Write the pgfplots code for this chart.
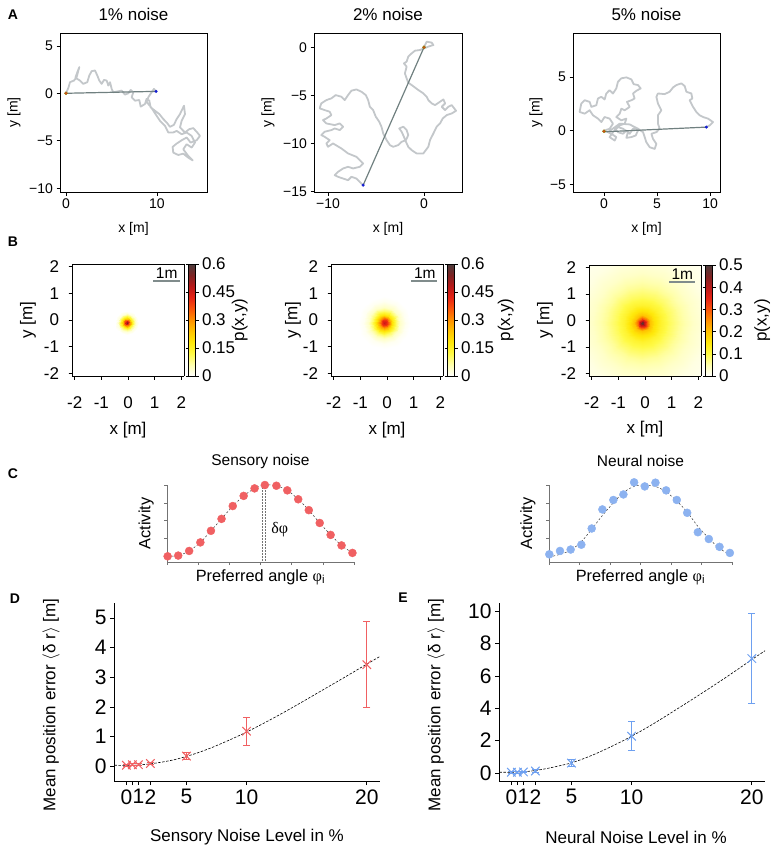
\documentclass[border=0pt]{standalone}
\usepackage{pgfplots}
\pgfplotsset{compat=1.18}
\usepackage{fontspec}
\setmainfont{Liberation Sans}
\newfontfamily\serifgreek{Liberation Serif}

\newcommand\fA{\fontsize{14}{16}\selectfont}
\newcommand\fAt{\fontsize{17}{20}\selectfont}
\newcommand\fB{\fontsize{17}{20}\selectfont}
\newcommand\fBs{\fontsize{15.5}{18}\selectfont}
\newcommand\fC{\fontsize{16.3}{19}\selectfont}
\newcommand\fCt{\fontsize{15.5}{18}\selectfont}
\newcommand\fD{\fontsize{21}{24}\selectfont}
\newcommand\fDl{\fontsize{17}{20}\selectfont}
\newcommand\fP{\fontsize{14}{17}\selectfont\bfseries}

\definecolor{trajgray}{RGB}{195,199,202}
\definecolor{linegray}{RGB}{112,128,128}
\definecolor{bargray}{RGB}{128,140,140}
\definecolor{sensred}{RGB}{240,96,98}
\definecolor{neurblue}{RGB}{140,178,240}
\definecolor{neurbar}{RGB}{110,160,240}
\definecolor{startred}{RGB}{220,60,30}
\definecolor{endblue}{RGB}{20,30,210}

\pgfplotsset{
  colormap={hotw}{rgb255=(255,255,255) rgb255=(255,255,175) rgb255=(255,250,70) rgb255=(255,232,10) rgb255=(255,195,0) rgb255=(255,145,0) rgb255=(250,85,10) rgb255=(230,35,20) rgb255=(185,25,25) rgb255=(125,35,35) rgb255=(75,60,60)},
  every axis/.append style={/pgf/number format/assume math mode=true},
  Astyle/.style={scale only axis, anchor=south west, width=147pt, height=159pt,
    tick align=outside, xtick pos=left, ytick pos=left, major tick length=3.5pt,
    axis line style={line width=0.7pt}, tick style={line width=0.6pt,black},
    tick label style={font=\fA}, label style={font=\fA},
    title style={font=\fAt, at={(0.5,1)}, anchor=base, yshift=6.9pt},
    xlabel={x [m]}, ylabel={y [m]},
    xlabel style={at={(0.5,0)}, anchor=center, yshift=-37pt}},
  Bstyle/.style={scale only axis, anchor=south west, width=112pt, height=112pt,
    view={0}{90}, xmin=-2.1, xmax=2.1, ymin=-2.1, ymax=2.1, zmin=0, zmax=1, ztick=\empty,
    xtick={-2,-1,0,1,2}, ytick={-2,-1,0,1,2},
    tick align=outside, xtick pos=left, ytick pos=left, major tick length=3.5pt,
    tick style={line width=0.6pt,black}, axis line style={line width=0.6pt},
    tick label style={font=\fB}, label style={font=\fB},
    xticklabel style={yshift=-14pt}, yticklabel style={xshift=-6pt},
    xlabel={x [m]}, ylabel={y [m]},
    xlabel style={at={(0.5,-0.482)}, anchor=center},
    colorbar, colormap name=hotw, point meta min=0, axis on top},
  cbstyle/.style={width=7pt, at={(parent axis.north east)}, anchor=north west, xshift=-4pt,
    tick align=outside, major tick length=3pt, tick style={line width=0.5pt,black},
    yticklabel style={font=\fB}, ylabel={p(x,y)}, ylabel style={font=\fB, anchor=center}},
  Cstyle/.style={scale only axis, anchor=south west, height=77pt, xmin=0, xmax=6, ymin=-0.32, ymax=4.0,
    axis x line*=bottom, axis y line*=left, axis line style={-, black!55, line width=0.5pt},
    xtick={0,...,6}, ytick={0,...,4}, xticklabels={}, yticklabels={},
    tick align=outside, major tick length=3pt, tick style={black!55, line width=0.5pt},
    clip=false, title style={font=\fCt, at={(0.5,1)}, anchor=center, yshift=18pt},
    label style={font=\fC}, xlabel style={at={(0.5,-0.195)}, anchor=center},
    ylabel={Activity}, xlabel={Preferred angle {\serifgreek φ}\textsubscript{i}}},
  Dstyle/.style={scale only axis, anchor=south west, width=266pt, height=178pt, xmin=-1.03, xmax=21.1, ymin=-0.5,
    axis x line*=bottom, axis y line*=left, axis line style={-, line width=0.6pt},
    xtick={0,0.5,1,2,5,10,20}, xticklabels={0,,1,2,5,10,20},
    tick align=outside, major tick length=4pt, tick style={line width=0.6pt,black},
    tick label style={font=\fD}, label style={font=\fDl}, xticklabel style={yshift=-1pt},
    ylabel={Mean position error $\langle$δ r$\rangle$ [m]},
    ylabel style={at={(-0.237,0.427)}, anchor=center}, clip=false},
}

\begin{document}
\begin{tikzpicture}
\useasboundingbox (0pt,0pt) rectangle (773pt,-850pt);

% ---------------- A1
\begin{axis}[Astyle, at={(60pt,-192pt)}, xmin=-0.66, xmax=15.5, ymin=-10.4, ymax=6.35,
  xtick={0,10}, ytick={-10,-5,0,5}, yticklabels={−10,−5,0,5}, title={1\% noise},
  ylabel style={at={(-0.313,0.5)}, anchor=center}]
\addplot[trajgray, line width=1.8pt, line join=round, line cap=round] coordinates {
(0,0) (0.26,0.57) (0.44,1.17) (0.88,1.34) (1.17,1.70) (1.36,2.40) (1.47,2.76) (1.25,2.23) (1.03,1.63) (1.54,1.34) (1.90,0.99) (2.34,1.17) (2.56,1.87) (2.82,2.33) (3.19,2.40) (3.44,1.87) (3.66,1.34) (3.92,0.99) (4.18,1.41) (4.47,1.34) (4.65,0.81) (4.84,1.17) (5.02,0.46) (5.20,0.11) (5.75,0.21) (6.12,0.28) (6.48,-0.14) (6.85,0) (7.11,0.35) (7.40,0.11) (7.22,-0.42) (7.58,-0.78) (8.06,-0.71) (8.21,-1.41) (8.68,-1.13) (8.86,-0.60) (9.16,-0.78) (9.30,-1.48) (9.78,-1.84) (10.26,-2.19) (10.70,-2.72) (11.06,-3.07) (11.43,-3.53) (11.87,-3.32) (12.16,-2.72) (12.53,-2.19) (12.97,-1.31) (13.08,-2.19) (12.71,-2.90) (12.53,-3.60) (13.08,-4.13) (13.55,-3.78) (13.99,-3.67) (14.43,-4.13) (14.73,-4.49) (14.36,-4.95) (13.70,-5.19) (13.26,-4.66) (12.71,-4.95) (12.16,-5.30) (11.72,-5.65) (11.79,-6.25) (12.34,-6.50) (12.89,-6.36) (13.44,-6.78) (13.92,-7.07) (13.44,-6.61) (12.89,-5.90) (13.26,-5.37) (13.81,-5.72) (14.18,-5.19) (13.81,-4.49) (13.26,-4.13) (12.71,-4.31) (12.16,-3.96) (11.79,-4.13) (11.25,-4.13) (10.88,-3.43) (10.33,-2.90) (9.96,-2.37) (9.60,-1.84) (9.23,-1.31) (8.86,-0.95) (9.05,-0.42) (9.41,0.11) (9.67,0.46) (9.9,0.2)};
\addplot[linegray, line width=1.2pt] coordinates {(0,0) (9.9,0.2)};
\addplot[only marks, mark=*, mark size=1.6pt, mark options={fill=startred, draw=olive, line width=0.4pt}] coordinates {(0,0)};
\addplot[only marks, mark=*, mark size=1.3pt, endblue] coordinates {(9.9,0.2)};
\end{axis}

% ---------------- A2
\begin{axis}[Astyle, at={(314pt,-192pt)}, width=148pt, xmin=-11.46, xmax=3.96, ymin=-15.05, ymax=1.49,
  xtick={-10,0}, xticklabels={−10,0}, ytick={-15,-10,-5,0}, yticklabels={−15,−10,−5,0}, title={2\% noise},
  ylabel style={at={(-0.311,0.5)}, anchor=center}]
\addplot[trajgray, line width=1.8pt, line join=round, line cap=round] coordinates {
(0,0) (0.28,0.59) (0.80,0.49) (0.98,0.24) (0.45,0.07) (-0.42,-0.28) (-0.94,-0.35) (-1.29,-0.63) (-1.64,-0.97) (-1.81,-1.49) (-2.09,-1.67) (-1.81,-2.01) (-1.99,-2.71) (-1.81,-3.23) (-1.64,-3.68) (-1.29,-3.92) (-1.05,-4.10) (-0.59,-4.44) (-0.07,-4.79) (0.28,-5.14) (0.45,-5.49) (0.80,-5.83) (1.15,-6.01) (1.67,-5.66) (2.02,-5.42) (2.20,-5.83) (1.85,-6.18) (2.20,-6.53) (2.54,-6.18) (2.89,-6.01) (3.34,-6.60) (2.89,-6.88) (2.37,-7.05) (1.95,-7.40) (1.67,-7.92) (1.32,-8.26) (0.98,-8.96) (0.63,-9.65) (0.45,-10.35) (-0.07,-11.04) (-0.77,-11.04) (-1.29,-10.69) (-1.64,-10.35) (-1.88,-9.83) (-2.09,-9.31) (-2.33,-8.78) (-2.58,-8.44) (-2.16,-8.26) (-1.81,-8.61) (-1.64,-9.13) (-1.88,-9.65) (-2.33,-9.83) (-2.68,-10.17) (-3.21,-10.35) (-3.55,-10.17) (-3.90,-9.65) (-4.25,-8.96) (-4.43,-8.26) (-4.67,-7.74) (-5.02,-7.22) (-5.30,-6.53) (-5.64,-6.18) (-5.82,-5.49) (-6.06,-4.97) (-6.52,-4.62) (-7.04,-4.38) (-7.56,-4.51) (-7.91,-4.97) (-8.26,-5.49) (-8.61,-5.14) (-9.20,-4.97) (-9.65,-5.31) (-10.17,-5.49) (-10.70,-5.83) (-10.87,-6.35) (-10.35,-6.53) (-9.83,-6.70) (-9.65,-7.05) (-10.17,-7.40) (-10.52,-7.57) (-10.17,-7.92) (-9.30,-8.09) (-8.78,-7.92) (-8.43,-8.26) (-8.78,-8.61) (-9.30,-8.44) (-9.65,-8.61) (-10.35,-8.78) (-10.70,-9.13) (-10.35,-9.31) (-9.83,-9.65) (-10.17,-10.00) (-10.00,-10.35) (-9.48,-10.00) (-8.61,-10.52) (-7.91,-11.04) (-7.04,-11.39) (-6.69,-11.74) (-6.34,-12.08) (-6.69,-12.43) (-7.39,-12.60) (-7.91,-12.43) (-8.43,-12.60) (-8.95,-12.95) (-9.30,-13.30) (-8.95,-13.47) (-8.43,-13.65) (-7.91,-13.82) (-7.56,-13.47) (-7.04,-13.65) (-6.69,-13.99) (-6.34,-14.34)};
\addplot[linegray, line width=1.2pt] coordinates {(0,0) (-6.34,-14.34)};
\addplot[only marks, mark=*, mark size=1.6pt, mark options={fill=startred, draw=olive, line width=0.4pt}] coordinates {(0,0)};
\addplot[only marks, mark=*, mark size=1.3pt, endblue] coordinates {(-6.34,-14.34)};
\end{axis}

% ---------------- A3
\begin{axis}[Astyle, at={(573pt,-192pt)}, xmin=-2.92, xmax=10.94, ymin=-5.7, ymax=9.1,
  xtick={0,5,10}, ytick={-5,0,5}, yticklabels={−5,0,5}, title={5\% noise},
  ylabel style={at={(-0.252,0.5)}, anchor=center}]
\addplot[trajgray, line width=1.8pt, line join=round, line cap=round] coordinates {
(0,0) (0.53,0.19) (0.85,0.66) (0.53,1.13) (0.06,1.28) (-0.25,0.81) (-0.57,1.13) (-1.04,1.44) (-1.35,1.91) (-1.82,1.59) (-2.30,1.75) (-2.14,2.53) (-1.82,2.84) (-1.35,2.69) (-1.19,2.22) (-0.72,2.38) (-0.57,3.00) (-0.25,3.16) (0.06,2.91) (0.22,3.47) (0.53,3.78) (0.85,3.47) (1.16,3.94) (1.32,4.56) (1.64,4.88) (2.11,4.97) (2.58,4.78) (2.80,4.34) (3.21,4.25) (3.46,3.94) (3.05,3.72) (2.74,3.47) (2.89,3.00) (2.58,2.84) (2.17,2.69) (2.42,2.22) (1.95,1.91) (1.64,2.06) (1.48,1.59) (1.16,1.28) (1.64,0.97) (2.11,1.13) (1.95,0.66) (1.48,0.50) (1.01,0.19) (1.32,-0.13) (1.79,-0.28) (2.11,0.03) (2.42,-0.28) (2.74,0.19) (3.21,0.03) (2.99,-0.44) (2.58,-0.59) (2.11,-0.66) (2.26,-0.13) (1.79,0.19) (1.32,0.34) (0.85,-0.13) (0.53,-0.59) (1.01,-0.91) (1.16,-0.59) (0.69,-0.28) (0.38,-0.13) (1.48,0.66) (2.42,0.59) (3.21,0.19) (3.68,-0.13) (3.84,-0.59) (3.99,-1.06) (4.31,-1.53) (4.78,-1.69) (4.94,-1.22) (4.62,-0.75) (4.47,-0.28) (4.94,-0.13) (5.25,0.19) (5.09,0.66) (5.09,1.44) (5.41,1.91) (5.09,2.53) (4.94,3.16) (5.09,3.47) (5.72,3.41) (6.19,3.63) (6.51,4.03) (6.82,4.25) (7.30,4.41) (7.61,4.16) (7.77,3.63) (8.24,3.47) (8.33,3.00) (8.08,2.84) (8.40,2.22) (8.71,1.75) (9.03,1.44) (9.34,1.28) (9.81,1.13) (10.28,0.81) (9.97,0.50) (9.65,0.34)};
\addplot[linegray, line width=1.2pt] coordinates {(0,-0.1) (9.65,0.34)};
\addplot[only marks, mark=*, mark size=1.6pt, mark options={fill=startred, draw=olive, line width=0.4pt}] coordinates {(0,-0.05)};
\addplot[only marks, mark=*, mark size=1.3pt, endblue] coordinates {(9.65,0.34)};
\end{axis}

% ---------------- B1
\begin{axis}[Bstyle, at={(72pt,-376pt)}, point meta max=0.6,
  ylabel style={at={(-0.393,0.5)}, anchor=center},
  colorbar style={cbstyle, ytick={0,0.15,0.3,0.45,0.6}, ylabel style={at={(7.3,0.5)}}}]
\addplot3[surf, shader=interp, mesh/cols=13] table {
-0.05 -0.1 0.55
-0.05 -0.1 0.55
-0.05 -0.1 0.55
-0.05 -0.1 0.55
-0.05 -0.1 0.55
-0.05 -0.1 0.55
-0.05 -0.1 0.55
-0.05 -0.1 0.55
-0.05 -0.1 0.55
-0.05 -0.1 0.55
-0.05 -0.1 0.55
-0.05 -0.1 0.55
-0.05 -0.1 0.55
0 -0.1 0.45
-0.0067 -0.075 0.45
-0.025 -0.0567 0.45
-0.05 -0.05 0.45
-0.075 -0.0567 0.45
-0.0933 -0.075 0.45
-0.1 -0.1 0.45
-0.0933 -0.125 0.45
-0.075 -0.1433 0.45
-0.05 -0.15 0.45
-0.025 -0.1433 0.45
-0.0067 -0.125 0.45
0 -0.1 0.45
0.05 -0.1 0.33
0.0366 -0.05 0.33
0 -0.0134 0.33
-0.05 0 0.33
-0.1 -0.0134 0.33
-0.1366 -0.05 0.33
-0.15 -0.1 0.33
-0.1366 -0.15 0.33
-0.1 -0.1866 0.33
-0.05 -0.2 0.33
0 -0.1866 0.33
0.0366 -0.15 0.33
0.05 -0.1 0.33
0.1 -0.1 0.24
0.0799 -0.025 0.24
0.025 0.0299 0.24
-0.05 0.05 0.24
-0.125 0.0299 0.24
-0.1799 -0.025 0.24
-0.2 -0.1 0.24
-0.1799 -0.175 0.24
-0.125 -0.2299 0.24
-0.05 -0.25 0.24
0.025 -0.2299 0.24
0.0799 -0.175 0.24
0.1 -0.1 0.24
0.15 -0.1 0.16
0.1232 0 0.16
0.05 0.0732 0.16
-0.05 0.1 0.16
-0.15 0.0732 0.16
-0.2232 0 0.16
-0.25 -0.1 0.16
-0.2232 -0.2 0.16
-0.15 -0.2732 0.16
-0.05 -0.3 0.16
0.05 -0.2732 0.16
0.1232 -0.2 0.16
0.15 -0.1 0.16
0.22 -0.1 0.08
0.1838 0.035 0.08
0.085 0.1338 0.08
-0.05 0.17 0.08
-0.185 0.1338 0.08
-0.2838 0.035 0.08
-0.32 -0.1 0.08
-0.2838 -0.235 0.08
-0.185 -0.3338 0.08
-0.05 -0.37 0.08
0.085 -0.3338 0.08
0.1838 -0.235 0.08
0.22 -0.1 0.08
0.3 -0.1 0.025
0.2531 0.075 0.025
0.125 0.2031 0.025
-0.05 0.25 0.025
-0.225 0.2031 0.025
-0.3531 0.075 0.025
-0.4 -0.1 0.025
-0.3531 -0.275 0.025
-0.225 -0.4031 0.025
-0.05 -0.45 0.025
0.125 -0.4031 0.025
0.2531 -0.275 0.025
0.3 -0.1 0.025
0.4 -0.1 0
0.3397 0.125 0
0.175 0.2897 0
-0.05 0.35 0
-0.275 0.2897 0
-0.4397 0.125 0
-0.5 -0.1 0
-0.4397 -0.325 0
-0.275 -0.4897 0
-0.05 -0.55 0
0.175 -0.4897 0
0.3397 -0.325 0
0.4 -0.1 0
};
\addplot3[bargray, line width=1.8pt] coordinates {(0.94,1.46,1) (1.94,1.46,1)};
\node[font=\fBs, inner sep=0pt] at (axis cs:1.45,1.74,1) {1m};
\end{axis}

% ---------------- B2
\begin{axis}[Bstyle, at={(331pt,-376pt)}, point meta max=0.6,
  ylabel style={at={(-0.339,0.5)}, anchor=center},
  colorbar style={cbstyle, ytick={0,0.15,0.3,0.45,0.6}, ylabel style={at={(8.3,0.5)}}}]
\addplot3[surf, shader=interp, mesh/cols=13] table {
-0.1 -0.1 0.46
-0.1 -0.1 0.46
-0.1 -0.1 0.46
-0.1 -0.1 0.46
-0.1 -0.1 0.46
-0.1 -0.1 0.46
-0.1 -0.1 0.46
-0.1 -0.1 0.46
-0.1 -0.1 0.46
-0.1 -0.1 0.46
-0.1 -0.1 0.46
-0.1 -0.1 0.46
-0.1 -0.1 0.46
0 -0.1 0.40
-0.0134 -0.05 0.40
-0.05 -0.0134 0.40
-0.1 0 0.40
-0.15 -0.0134 0.40
-0.1866 -0.05 0.40
-0.2 -0.1 0.40
-0.1866 -0.15 0.40
-0.15 -0.1866 0.40
-0.1 -0.2 0.40
-0.05 -0.1866 0.40
-0.0134 -0.15 0.40
0 -0.1 0.40
0.1 -0.1 0.29
0.0732 0 0.29
0 0.0732 0.29
-0.1 0.1 0.29
-0.2 0.0732 0.29
-0.2732 0 0.29
-0.3 -0.1 0.29
-0.2732 -0.2 0.29
-0.2 -0.2732 0.29
-0.1 -0.3 0.29
0 -0.2732 0.29
0.0732 -0.2 0.29
0.1 -0.1 0.29
0.2 -0.1 0.19
0.1598 0.05 0.19
0.05 0.1598 0.19
-0.1 0.2 0.19
-0.25 0.1598 0.19
-0.3598 0.05 0.19
-0.4 -0.1 0.19
-0.3598 -0.25 0.19
-0.25 -0.3598 0.19
-0.1 -0.4 0.19
0.05 -0.3598 0.19
0.1598 -0.25 0.19
0.2 -0.1 0.19
0.35 -0.1 0.10
0.2897 0.125 0.10
0.125 0.2897 0.10
-0.1 0.35 0.10
-0.325 0.2897 0.10
-0.4897 0.125 0.10
-0.55 -0.1 0.10
-0.4897 -0.325 0.10
-0.325 -0.4897 0.10
-0.1 -0.55 0.10
0.125 -0.4897 0.10
0.2897 -0.325 0.10
0.35 -0.1 0.10
0.5 -0.1 0.04
0.4196 0.2 0.04
0.2 0.4196 0.04
-0.1 0.5 0.04
-0.4 0.4196 0.04
-0.6196 0.2 0.04
-0.7 -0.1 0.04
-0.6196 -0.4 0.04
-0.4 -0.6196 0.04
-0.1 -0.7 0.04
0.2 -0.6196 0.04
0.4196 -0.4 0.04
0.5 -0.1 0.04
0.7 -0.1 0.01
0.5928 0.3 0.01
0.3 0.5928 0.01
-0.1 0.7 0.01
-0.5 0.5928 0.01
-0.7928 0.3 0.01
-0.9 -0.1 0.01
-0.7928 -0.5 0.01
-0.5 -0.7928 0.01
-0.1 -0.9 0.01
0.3 -0.7928 0.01
0.5928 -0.5 0.01
0.7 -0.1 0.01
0.9 -0.1 0
0.766 0.4 0
0.4 0.766 0
-0.1 0.9 0
-0.6 0.766 0
-0.966 0.4 0
-1.1 -0.1 0
-0.966 -0.6 0
-0.6 -0.966 0
-0.1 -1.1 0
0.4 -0.966 0
0.766 -0.6 0
0.9 -0.1 0
};
\addplot3[bargray, line width=1.8pt] coordinates {(0.91,1.46,1) (1.88,1.46,1)};
\node[font=\fBs, inner sep=0pt] at (axis cs:1.42,1.74,1) {1m};
\end{axis}

% ---------------- B3
\begin{axis}[Bstyle, at={(589pt,-376pt)}, height=111pt, point meta max=0.5,
  ylabel style={at={(-0.393,0.5)}, anchor=center},
  colorbar style={cbstyle, ytick={0,0.1,0.2,0.3,0.4,0.5}, ylabel style={at={(8.1,0.5)}}}]
\addplot3[surf, shader=interp, mesh/cols=17] table {
-0.1 -0.1 0.5
-0.1 -0.1 0.5
-0.1 -0.1 0.5
-0.1 -0.1 0.5
-0.1 -0.1 0.5
-0.1 -0.1 0.5
-0.1 -0.1 0.5
-0.1 -0.1 0.5
-0.1 -0.1 0.5
-0.1 -0.1 0.5
-0.1 -0.1 0.5
-0.1 -0.1 0.5
-0.1 -0.1 0.5
-0.1 -0.1 0.5
-0.1 -0.1 0.5
-0.1 -0.1 0.5
-0.1 -0.1 0.5
-0.02 -0.1 0.4
-0.0261 -0.0694 0.4
-0.0434 -0.0434 0.4
-0.0694 -0.0261 0.4
-0.1 -0.02 0.4
-0.1306 -0.0261 0.4
-0.1566 -0.0434 0.4
-0.1739 -0.0694 0.4
-0.18 -0.1 0.4
-0.1739 -0.1306 0.4
-0.1566 -0.1566 0.4
-0.1306 -0.1739 0.4
-0.1 -0.18 0.4
-0.0694 -0.1739 0.4
-0.0434 -0.1566 0.4
-0.0261 -0.1306 0.4
-0.02 -0.1 0.4
0.08 -0.1 0.29
0.0663 -0.0311 0.29
0.0273 0.0273 0.29
-0.0311 0.0663 0.29
-0.1 0.08 0.29
-0.1689 0.0663 0.29
-0.2273 0.0273 0.29
-0.2663 -0.0311 0.29
-0.28 -0.1 0.29
-0.2663 -0.1689 0.29
-0.2273 -0.2273 0.29
-0.1689 -0.2663 0.29
-0.1 -0.28 0.29
-0.0311 -0.2663 0.29
0.0273 -0.2273 0.29
0.0663 -0.1689 0.29
0.08 -0.1 0.29
0.2 -0.1 0.2
0.1772 0.0149 0.2
0.1121 0.1121 0.2
0.0149 0.1772 0.2
-0.1 0.2 0.2
-0.2149 0.1772 0.2
-0.3121 0.1121 0.2
-0.3772 0.0149 0.2
-0.4 -0.1 0.2
-0.3772 -0.2149 0.2
-0.3121 -0.3121 0.2
-0.2149 -0.3772 0.2
-0.1 -0.4 0.2
0.0149 -0.3772 0.2
0.1121 -0.3121 0.2
0.1772 -0.2149 0.2
0.2 -0.1 0.2
0.35 -0.1 0.16
0.3158 0.0724 0.16
0.2182 0.2182 0.16
0.0724 0.3158 0.16
-0.1 0.35 0.16
-0.2724 0.3158 0.16
-0.4182 0.2182 0.16
-0.5158 0.0724 0.16
-0.55 -0.1 0.16
-0.5158 -0.2724 0.16
-0.4182 -0.4182 0.16
-0.2724 -0.5158 0.16
-0.1 -0.55 0.16
0.0724 -0.5158 0.16
0.2182 -0.4182 0.16
0.3158 -0.2724 0.16
0.35 -0.1 0.16
0.6 -0.1 0.12
0.5468 0.1681 0.12
0.3949 0.3949 0.12
0.1681 0.5468 0.12
-0.1 0.6 0.12
-0.3681 0.5468 0.12
-0.5949 0.3949 0.12
-0.7468 0.1681 0.12
-0.8 -0.1 0.12
-0.7468 -0.3681 0.12
-0.5949 -0.5949 0.12
-0.3681 -0.7468 0.12
-0.1 -0.8 0.12
0.1681 -0.7468 0.12
0.3949 -0.5949 0.12
0.5468 -0.3681 0.12
0.6 -0.1 0.12
0.9 -0.1 0.09
0.824 0.283 0.09
0.607 0.607 0.09
0.283 0.824 0.09
-0.1 0.9 0.09
-0.483 0.824 0.09
-0.807 0.607 0.09
-1.024 0.283 0.09
-1.1 -0.1 0.09
-1.024 -0.483 0.09
-0.807 -0.807 0.09
-0.483 -1.024 0.09
-0.1 -1.1 0.09
0.283 -1.024 0.09
0.607 -0.807 0.09
0.824 -0.483 0.09
0.9 -0.1 0.09
1.3 -0.1 0.06
1.1936 0.4362 0.06
0.8898 0.8898 0.06
0.4362 1.1936 0.06
-0.1 1.3 0.06
-0.6362 1.1936 0.06
-1.0898 0.8898 0.06
-1.3936 0.4362 0.06
-1.5 -0.1 0.06
-1.3936 -0.6362 0.06
-1.0898 -1.0898 0.06
-0.6362 -1.3936 0.06
-0.1 -1.5 0.06
0.4362 -1.3936 0.06
0.8898 -1.0898 0.06
1.1936 -0.6362 0.06
1.3 -0.1 0.06
1.8 -0.1 0.035
1.6556 0.6277 0.035
1.2433 1.2433 0.035
0.6277 1.6556 0.035
-0.1 1.8 0.035
-0.8277 1.6556 0.035
-1.4433 1.2433 0.035
-1.8556 0.6277 0.035
-2.0 -0.1 0.035
-1.8556 -0.8277 0.035
-1.4433 -1.4433 0.035
-0.8277 -1.8556 0.035
-0.1 -2.0 0.035
0.6277 -1.8556 0.035
1.2433 -1.4433 0.035
1.6556 -0.8277 0.035
1.8 -0.1 0.035
2.4 -0.1 0.018
2.21 0.8575 0.018
1.6675 1.6675 0.018
0.8575 2.21 0.018
-0.1 2.4 0.018
-1.0575 2.21 0.018
-1.8675 1.6675 0.018
-2.41 0.8575 0.018
-2.6 -0.1 0.018
-2.41 -1.0575 0.018
-1.8675 -1.8675 0.018
-1.0575 -2.41 0.018
-0.1 -2.6 0.018
0.8575 -2.41 0.018
1.6675 -1.8675 0.018
2.21 -1.0575 0.018
2.4 -0.1 0.018
3.1 -0.1 0.009
2.8568 1.1256 0.009
2.1624 2.1624 0.009
1.1256 2.8568 0.009
-0.1 3.1 0.009
-1.3256 2.8568 0.009
-2.3624 2.1624 0.009
-3.0568 1.1256 0.009
-3.3 -0.1 0.009
-3.0568 -1.3256 0.009
-2.3624 -2.3624 0.009
-1.3256 -3.0568 0.009
-0.1 -3.3 0.009
1.1256 -3.0568 0.009
2.1624 -2.3624 0.009
2.8568 -1.3256 0.009
3.1 -0.1 0.009
};
\addplot3[bargray, line width=1.8pt] coordinates {(0.9,1.46,1) (1.88,1.46,1)};
\node[font=\fBs, inner sep=0pt] at (axis cs:1.40,1.74,1) {1m};
\end{axis}

% ---------------- C1 Sensory
\begin{axis}[Cstyle, at={(167pt,-562pt)}, width=187pt, title={Sensory noise},
  ylabel style={at={(-0.112,0.5)}, anchor=center}]
\addplot[black!55, densely dotted, line width=0.5pt] coordinates {(3.05,-0.32) (3.05,4.0)};
\addplot[black!55, densely dotted, line width=0.5pt] coordinates {(3.14,-0.32) (3.14,4.0)};
\addplot[black!80, dashed, dash pattern=on 2pt off 2pt, line width=0.5pt, smooth] coordinates {
(0.02,0) (0.36,0.04) (0.71,0.30) (1.07,0.78) (1.41,1.43) (1.75,2.10) (2.11,2.82) (2.46,3.39) (2.81,3.81) (3.14,4.0) (3.51,3.96) (3.86,3.70) (4.21,3.20) (4.55,2.59) (4.90,1.87) (5.25,1.20) (5.60,0.61) (5.95,0.19)};
\addplot[only marks, mark=*, mark size=4pt, color=sensred, mark options={draw=none, fill=sensred}] coordinates {
(0.02,0) (0.36,0.04) (0.71,0.30) (1.07,0.78) (1.41,1.43) (1.75,2.10) (2.11,2.82) (2.46,3.39) (2.81,3.81) (3.14,4.0) (3.51,3.96) (3.86,3.70) (4.21,3.20) (4.55,2.59) (4.90,1.87) (5.25,1.20) (5.60,0.61) (5.95,0.19)};
\node[font=\fontsize{16}{19}\selectfont\serifgreek] at (axis cs:3.62,1.49) {δφ};
\end{axis}

% ---------------- C2 Neural
\begin{axis}[Cstyle, at={(549pt,-562pt)}, width=183pt, title={Neural noise},
  ylabel style={at={(-0.115,0.5)}, anchor=center}]
\addplot[black!80, dashed, dash pattern=on 2pt off 2pt, line width=0.5pt, smooth] coordinates {
(0.01,-0.04) (0.36,0.11) (0.71,0.34) (1.06,0.82) (1.40,1.52) (1.75,2.29) (2.11,3.0) (2.44,3.58) (2.79,3.92) (3.14,4.0) (3.49,3.92) (3.84,3.62) (4.19,3.10) (4.53,2.48) (4.88,1.68) (5.24,1.01) (5.59,0.44) (5.93,0.11)};
\addplot[only marks, mark=*, mark size=4pt, color=neurblue, mark options={draw=none, fill=neurblue}] coordinates {
(0.01,0.11) (0.36,0.30) (0.71,0.38) (1.06,0.65) (1.40,1.56) (1.75,2.63) (2.11,3.16) (2.44,3.47) (2.79,4.15) (3.14,3.92) (3.49,4.13) (3.84,3.70) (4.19,3.16) (4.53,2.44) (4.88,1.35) (5.24,0.97) (5.59,0.53) (5.93,0.19)};
\end{axis}

% ---------------- D
\begin{axis}[Dstyle, at={(114pt,-781pt)}, ymax=5.5, ytick={0,1,2,3,4,5},
  xlabel={Sensory Noise Level in \%}, xlabel style={at={(0.5,-0.315)}, anchor=center}]
\addplot[black, dashed, dash pattern=on 2.5pt off 1.5pt, line width=0.6pt, smooth] coordinates {
(-1,0.03) (0,0.03) (1,0.04) (2,0.08) (3,0.14) (4,0.22) (5,0.33) (6,0.46) (7,0.61) (8,0.78) (9,0.96) (10,1.15) (12,1.57) (14,2.02) (16,2.49) (18,2.96) (20,3.44) (21.1,3.70)};
\addplot[sensred, only marks, mark=x, mark size=6pt, mark options={line width=1pt},
  error bars/.cd, y dir=both, y explicit,
  error bar style={line width=1pt, draw=sensred},
  error mark options={rotate=90, mark size=3.5pt, line width=1pt, draw=sensred}] coordinates {
(0,0.03) +- (0,0.03)
(0.5,0.05) +- (0,0.03)
(1,0.05) +- (0,0.03)
(2,0.09) +- (0,0.04)
(5,0.34) +- (0,0.13)
(10,1.18) +- (0,0.47)
(20,3.42) +- (0,1.44)};
\end{axis}

% ---------------- E
\begin{axis}[Dstyle, at={(499pt,-781pt)}, ymax=10.5, ytick={0,2,4,6,8,10},
  xlabel={Neural Noise Level in \%}, xlabel style={at={(0.515,-0.315)}, anchor=center}]
\addplot[black, dashed, dash pattern=on 2.5pt off 1.5pt, line width=0.6pt, smooth] coordinates {
(-1,0.04) (0,0.04) (1,0.07) (2,0.15) (3,0.28) (4,0.44) (5,0.62) (6,0.88) (7,1.18) (8,1.52) (9,1.88) (10,2.27) (11,2.68) (12,3.12) (14,4.05) (16,5.0) (18,5.98) (20,7.0) (21.1,7.55)};
\addplot[neurbar, only marks, mark=x, mark size=6pt, mark options={line width=1pt},
  error bars/.cd, y dir=both, y explicit,
  error bar style={line width=1.1pt, draw=neurbar},
  error mark options={rotate=90, mark size=3.5pt, line width=1.1pt, draw=neurbar}] coordinates {
(0,0.04) +- (0,0.05)
(0.5,0.04) +- (0,0.05)
(1,0.06) +- (0,0.05)
(2,0.12) +- (0,0.07)
(5,0.61) +- (0,0.2)
(10,2.27) +- (0,0.9)
(20,7.07) +- (0,2.78)};
\end{axis}

% panel letters
\node[font=\fP] at (13pt,-15pt) {A};
\node[font=\fP] at (13pt,-242pt) {B};
\node[font=\fP] at (13pt,-474pt) {C};
\node[font=\fP] at (15pt,-599pt) {D};
\node[font=\fP] at (403pt,-598pt) {E};
\end{tikzpicture}
\end{document}
